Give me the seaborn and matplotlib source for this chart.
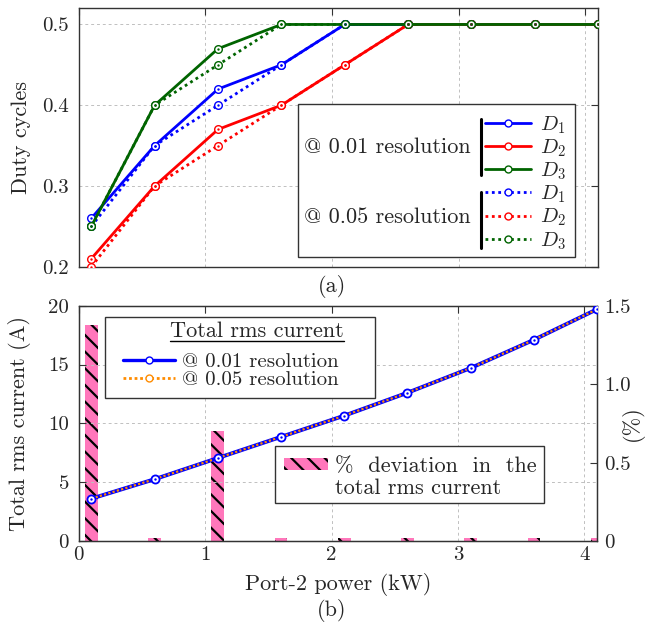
import matplotlib
matplotlib.use("Agg")
import matplotlib.pyplot as plt
import seaborn as sns
from matplotlib.lines import Line2D
from matplotlib.patches import Patch, Rectangle

# ---------------- data ----------------
power = [0.1, 0.6, 1.1, 1.6, 2.1, 2.6, 3.1, 3.6, 4.1]

# duty cycles @ 0.01 resolution
d1_001 = [0.26, 0.35, 0.42, 0.45, 0.50, 0.50, 0.50, 0.50, 0.50]
d2_001 = [0.21, 0.30, 0.37, 0.40, 0.45, 0.50, 0.50, 0.50, 0.50]
d3_001 = [0.25, 0.40, 0.47, 0.50, 0.50, 0.50, 0.50, 0.50, 0.50]
# duty cycles @ 0.05 resolution
d1_005 = [0.25, 0.35, 0.40, 0.45, 0.50, 0.50, 0.50, 0.50, 0.50]
d2_005 = [0.20, 0.30, 0.35, 0.40, 0.45, 0.50, 0.50, 0.50, 0.50]
d3_005 = [0.25, 0.40, 0.45, 0.50, 0.50, 0.50, 0.50, 0.50, 0.50]

# total rms current (A)
irms_001 = [3.6, 5.25, 7.05, 8.85, 10.65, 12.6, 14.7, 17.1, 19.7]
irms_005 = [3.6, 5.25, 7.05, 8.85, 10.65, 12.6, 14.7, 17.1, 19.7]
# % deviation in total rms current
deviation = [1.38, 0.02, 0.70, 0.02, 0.02, 0.02, 0.02, 0.02, 0.02]

# ---------------- style ----------------
sns.set_style("white")
plt.rcParams["font.family"] = ["cmr10", "DejaVu Serif"]
plt.rcParams["mathtext.fontset"] = "cm"
plt.rcParams["axes.formatter.use_mathtext"] = True
plt.rcParams["font.size"] = 16
plt.rcParams["xtick.labelsize"] = 15
plt.rcParams["ytick.labelsize"] = 15
plt.rcParams["hatch.linewidth"] = 1.6

BLUE, RED, GREEN = "#0000ff", "#ff0000", "#006400"
ORANGE = "#ff8c00"
PINK = "#ff77bb"
FRAME = "#333333"
DOT = (0, (1, 1.3))

fig = plt.figure(figsize=(6.6, 6.25), dpi=100)
ax_top = fig.add_axes([0.1192, 0.5733, 0.787, 0.4134])
ax_bot = fig.add_axes([0.1192, 0.1344, 0.7855, 0.3765])


def style_axes(ax):
    for s in ax.spines.values():
        s.set_color(FRAME)
        s.set_linewidth(1.0)
    ax.grid(True, color="#c0c0c0", linestyle=(0, (3, 3)), linewidth=0.7)
    ax.set_axisbelow(True)


def series(ax, y, color, ls, lw=2.0, ms=5.5, z=3):
    sns.lineplot(x=power, y=y, ax=ax, color=color, linestyle=ls, linewidth=lw,
                 marker="o", markersize=ms, markerfacecolor="white",
                 markeredgecolor=color, markeredgewidth=1.0, zorder=z)
    sns.scatterplot(x=power, y=y, ax=ax, color=color, s=3, linewidth=0, zorder=z + 0.1)


# ---------------- (a) duty cycles ----------------
series(ax_top, d1_005, BLUE, DOT)
series(ax_top, d2_005, RED, DOT)
series(ax_top, d3_005, GREEN, DOT)
series(ax_top, d1_001, BLUE, "-")
series(ax_top, d2_001, RED, "-")
series(ax_top, d3_001, GREEN, "-")

ax_top.set_xlim(0, 4.1)
ax_top.set_ylim(0.2, 0.52)
ax_top.set_xticks([0, 1, 2, 3, 4])
ax_top.set_xticklabels([])
ax_top.set_yticks([0.2, 0.3, 0.4, 0.5])
ax_top.set_yticklabels(["0.2", "0.3", "0.4", "0.5"])
ax_top.tick_params(direction="in", top=True, right=True, length=5, pad=7, color=FRAME)
ax_top.set_xlabel("")
ax_top.set_ylabel("Duty cycles")
ax_top.yaxis.set_label_coords(-0.092, 0.5)
style_axes(ax_top)

# custom grouped legend
ax_top.add_patch(Rectangle((0.422, 0.0375), 0.534, 0.5925, transform=ax_top.transAxes,
                           facecolor="white", edgecolor=FRAME, linewidth=1.0, zorder=5))
ax_top.text(0.433, 0.464, "@ 0.01 resolution", transform=ax_top.transAxes,
            ha="left", va="center", zorder=6)
ax_top.text(0.433, 0.193, "@ 0.05 resolution", transform=ax_top.transAxes,
            ha="left", va="center", zorder=6)
ax_top.plot([0.774, 0.774], [0.355, 0.570], transform=ax_top.transAxes,
            color="black", linewidth=2.2, zorder=6)
ax_top.plot([0.774, 0.774], [0.071, 0.288], transform=ax_top.transAxes,
            color="black", linewidth=2.2, zorder=6)

handles = []
for c, ls in [(BLUE, "-"), (RED, "-"), (GREEN, "-"), (BLUE, DOT), (RED, DOT), (GREEN, DOT)]:
    handles.append(Line2D([], [], color=c, linestyle=ls, linewidth=2.0, marker="o",
                          markersize=5, markerfacecolor="white", markeredgecolor=c))
labels = [r"$D_1$", r"$D_2$", r"$D_3$", r"$D_1$", r"$D_2$", r"$D_3$"]
leg = ax_top.legend(handles, labels, loc="center left", bbox_to_anchor=(0.782, 0.3245),
                    frameon=False, borderpad=0, borderaxespad=0, handlelength=2.2,
                    handletextpad=0.45, labelspacing=0.08, fontsize=15)
leg.set_zorder(7)

# ---------------- (b) rms current + deviation ----------------
ax2 = ax_bot.twinx()
sns.barplot(x=power, y=deviation, native_scale=True, width=0.2, color=PINK,
            saturation=1, edgecolor="black", linewidth=0, hatch="\\\\",
            errorbar=None, ax=ax2)
ax2.set_ylim(0, 1.5)
ax2.set_yticks([0, 0.5, 1.0, 1.5])
ax2.set_yticklabels(["0", "0.5", "1.0", "1.5"])
ax2.set_ylabel("(%)")
ax2.yaxis.set_label_coords(1.046, 0.5)
ax2.tick_params(direction="in", length=5, pad=5, color=FRAME)
for s in ax2.spines.values():
    s.set_color(FRAME)
ax2.grid(False)

sns.lineplot(x=power, y=irms_001, ax=ax_bot, color=BLUE, linewidth=2.8, zorder=3)
sns.lineplot(x=power, y=irms_005, ax=ax_bot, color=ORANGE, linewidth=1.6,
             linestyle=(0, (1, 1)), zorder=4)
sns.scatterplot(x=power, y=irms_001, ax=ax_bot, marker="o", s=34, color="white",
                edgecolor=BLUE, linewidth=1.3, zorder=5)
sns.scatterplot(x=power, y=irms_001, ax=ax_bot, color=BLUE, s=3, linewidth=0, zorder=6)

ax_bot.set_zorder(ax2.get_zorder() + 1)
ax_bot.patch.set_visible(False)
ax_bot.set_xlim(0, 4.1)
ax_bot.set_ylim(0, 20)
ax_bot.set_xticks([0, 1, 2, 3, 4])
ax_bot.set_xticklabels(["0", "1", "2", "3", "4"])
ax_bot.set_yticks([0, 5, 10, 15, 20])
ax_bot.set_yticklabels(["0", "5", "10", "15", "20"])
ax_bot.tick_params(direction="in", top=True, length=5, pad=4, color=FRAME)
ax_bot.tick_params(axis="y", pad=7)
ax_bot.set_xlabel("Port-2 power (kW)", labelpad=6)
ax_bot.set_ylabel("Total rms current (A)")
ax_bot.yaxis.set_label_coords(-0.092, 0.5)
style_axes(ax_bot)

# legend: total rms current
ax_bot.add_patch(Rectangle((0.0514, 0.606), 0.5206, 0.347, transform=ax_bot.transAxes,
                           facecolor="white", edgecolor=FRAME, linewidth=1.0, zorder=7))
title = ax_bot.text(0.176, 0.866, "Total rms current", transform=ax_bot.transAxes,
                    ha="left", va="baseline", zorder=8)
h1 = Line2D([], [], color=BLUE, linewidth=2.4, marker="o", markersize=5,
            markerfacecolor="white", markeredgecolor=BLUE)
h2 = Line2D([], [], color=ORANGE, linewidth=2.0, linestyle=(0, (1, 1)), marker="o",
            markersize=5, markerfacecolor="white", markeredgecolor=ORANGE)
leg1 = ax_bot.legend([h1, h2], ["@ 0.01 resolution", "@ 0.05 resolution"],
                     loc="center left", bbox_to_anchor=(0.086, 0.723), frameon=False,
                     borderpad=0, borderaxespad=0, handlelength=2.5, handletextpad=0.3,
                     labelspacing=0.0, fontsize=15)
leg1.set_zorder(8)
ax_bot.add_artist(leg1)

# legend: deviation bars
ax_bot.add_patch(Rectangle((0.379, 0.160), 0.519, 0.244, transform=ax_bot.transAxes,
                           facecolor="white", edgecolor=FRAME, linewidth=1.0, zorder=7))
hb = Patch(facecolor=PINK, edgecolor="black", linewidth=0, hatch="\\\\")
hn = Line2D([], [], alpha=0)
leg2 = ax_bot.legend([hb, hn], ["%  deviation  in  the", "total rms current"],
                     loc="center left", bbox_to_anchor=(0.396, 0.27), frameon=False,
                     borderpad=0, borderaxespad=0, handlelength=2.0, handletextpad=0.3,
                     handleheight=0.45, labelspacing=0.12)
leg2.set_zorder(8)

# underline the legend title
fig.canvas.draw()
bb = title.get_window_extent().transformed(ax_bot.transAxes.inverted())
ax_bot.plot([bb.x0, bb.x1], [0.849, 0.849], transform=ax_bot.transAxes,
            color="black", linewidth=1.0, zorder=8)

fig.text(0.503, 0.541, "(a)", ha="center", va="center")
fig.text(0.503, 0.0224, "(b)", ha="center", va="center")

fig.savefig("out.png", dpi=100)
